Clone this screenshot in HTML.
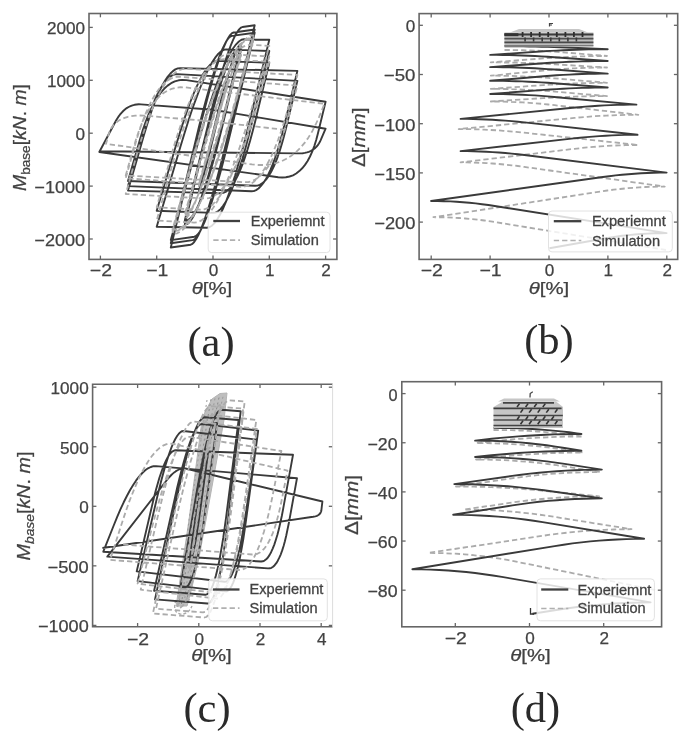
<!DOCTYPE html><html><head><meta charset="utf-8"><title>Figure</title><style>html,body{margin:0;padding:0;background:#fff;}svg{display:block;font-family:"Liberation Sans",sans-serif;filter:blur(0.65px);}</style></head><body><svg width="685" height="739" viewBox="0 0 685 739" font-family="Liberation Sans, sans-serif">
<defs><clipPath id="clipa"><rect x="89" y="13.5" width="247.89999999999998" height="245.89999999999998"/></clipPath><clipPath id="clipb"><rect x="419.1" y="13.6" width="258.6" height="245.79999999999998"/></clipPath><clipPath id="clipc"><rect x="92.6" y="384.2" width="240.00000000000003" height="242.59999999999997"/></clipPath><clipPath id="clipd"><rect x="401.8" y="381.7" width="259.8" height="245.09999999999997"/></clipPath></defs>
<rect width="685" height="739" fill="#fff"/>
<g clip-path="url(#clipa)">
<path d="M213.0,133.2 L215.9,121.3 L216.4,119.3 L216.8,117.4 L217.2,115.7 L217.6,114.2 L218.0,112.7 L218.3,111.5 L218.6,110.4 L218.9,109.4 L219.1,108.6 L219.3,107.9 L219.4,107.4 L219.6,107.0 L219.7,106.8 L219.7,106.7 L219.8,106.7 L213.9,131.0 L212.9,135.1 L212.0,138.9 L211.1,142.4 L210.3,145.6 L209.6,148.5 L209.0,151.0 L208.4,153.3 L207.9,155.3 L207.4,156.9 L207.1,158.3 L206.8,159.4 L206.5,160.1 L206.4,160.6 L206.3,160.7 L206.2,160.7 L212.4,135.5 L213.4,131.2 L214.3,127.3 L215.2,123.7 L216.0,120.4 L216.8,117.4 L217.5,114.7 L218.1,112.3 L218.6,110.3 L219.1,108.6 L219.4,107.1 L219.8,106.0 L220.0,105.3 L220.2,104.8 L220.3,104.6 L220.3,104.6 L206.2,162.8 L215.2,125.7 L216.7,119.4 L218.2,113.6 L219.5,108.3 L220.7,103.4 L221.8,99.0 L222.8,95.1 L223.7,91.6 L224.5,88.6 L225.2,86.1 L225.7,84.0 L226.2,82.4 L226.6,81.2 L226.9,80.5 L227.0,80.3 L227.1,80.3 L215.3,129.1 L213.3,137.4 L211.4,145.0 L209.7,152.0 L208.1,158.4 L206.6,164.1 L205.3,169.3 L204.1,173.9 L203.1,177.8 L202.1,181.2 L201.4,183.9 L200.7,186.0 L200.2,187.5 L199.8,188.5 L199.6,188.7 L199.5,188.7 L211.6,138.7 L213.6,130.3 L215.5,122.5 L217.3,115.3 L218.9,108.8 L220.4,102.9 L221.8,97.6 L223.0,92.9 L224.1,88.8 L225.0,85.4 L225.8,82.6 L226.4,80.4 L227.0,78.9 L227.3,78.0 L227.6,77.7 L227.6,77.7 L215.3,128.9 L213.2,137.5 L211.2,145.5 L209.4,152.8 L207.7,159.5 L206.2,165.6 L204.8,171.0 L203.6,175.8 L202.5,179.9 L201.6,183.4 L200.8,186.3 L200.1,188.5 L199.6,190.1 L199.2,191.1 L199.0,191.4 L198.9,191.4 L211.5,139.5 L213.6,130.8 L215.6,122.7 L217.4,115.2 L219.0,108.4 L220.5,102.3 L221.9,96.8 L223.0,91.9 L224.1,87.7 L225.0,84.2 L225.7,81.2 L226.3,79.0 L226.7,77.4 L227.0,76.4 L227.1,76.1 L227.1,76.1 L198.9,192.4 L215.1,125.5 L217.9,114.3 L220.5,103.8 L223.0,94.3 L225.3,85.5 L227.5,77.6 L229.5,70.5 L231.4,64.3 L233.2,58.9 L234.8,54.4 L236.3,50.7 L237.7,47.8 L238.9,45.8 L239.9,44.6 L240.8,44.3 L241.2,44.3 L221.4,125.8 L218.1,139.5 L214.8,152.2 L211.7,163.8 L208.7,174.5 L205.8,184.1 L203.0,192.6 L200.4,200.2 L197.9,206.7 L195.5,212.2 L193.3,216.7 L191.1,220.1 L189.1,222.5 L187.2,223.9 L185.5,224.2 L184.8,224.2 L204.2,144.1 L207.5,130.6 L210.8,118.2 L213.9,106.7 L216.8,96.3 L219.7,86.9 L222.5,78.4 L225.1,71.0 L227.7,64.6 L230.1,59.2 L232.4,54.8 L234.6,51.5 L236.7,49.1 L238.6,47.8 L240.5,47.4 L241.2,47.5 L222.0,126.6 L218.7,140.0 L215.5,152.3 L212.5,163.6 L209.5,173.9 L206.6,183.2 L203.9,191.6 L201.2,198.9 L198.6,205.2 L196.2,210.5 L193.9,214.8 L191.6,218.2 L189.5,220.5 L187.5,221.8 L185.5,222.1 L184.8,222.1 L203.9,143.4 L207.2,130.2 L210.3,117.9 L213.4,106.7 L216.4,96.4 L219.2,87.1 L222.0,78.9 L224.7,71.6 L227.2,65.3 L229.7,60.0 L232.0,55.7 L234.3,52.4 L236.4,50.1 L238.5,48.8 L240.4,48.5 L241.2,48.6 L222.3,126.5 L219.0,139.7 L215.9,151.8 L212.8,162.9 L209.9,173.1 L207.0,182.3 L204.3,190.5 L201.6,197.7 L199.0,203.9 L196.5,209.2 L194.1,213.4 L191.9,216.7 L189.7,218.9 L187.6,220.2 L185.6,220.6 L184.8,220.5 L208.1,124.5 L211.3,111.3 L214.4,99.0 L217.5,87.7 L220.3,77.4 L223.1,68.0 L225.8,59.6 L228.3,52.2 L230.7,45.7 L233.0,40.2 L235.1,35.6 L237.2,32.0 L239.1,29.4 L240.9,27.7 L242.5,27.0 L254.7,25.3 L228.3,134.2 L224.6,149.2 L221.1,163.1 L217.7,175.9 L214.5,187.6 L211.4,198.3 L208.5,207.8 L205.8,216.2 L203.1,223.6 L200.7,229.8 L198.4,235.0 L196.2,239.0 L194.2,242.0 L192.4,243.9 L190.7,244.7 L170.8,247.5 L196.6,140.8 L200.2,126.1 L203.7,112.4 L207.0,99.9 L210.1,88.4 L213.2,78.0 L216.0,68.6 L218.8,60.3 L221.3,53.1 L223.8,47.0 L226.0,42.0 L228.2,38.0 L230.1,35.1 L232.0,33.2 L233.7,32.5 L254.7,29.5 L229.4,134.0 L225.8,148.4 L222.4,161.8 L219.2,174.1 L216.1,185.3 L213.1,195.5 L210.3,204.7 L207.6,212.8 L205.1,219.9 L202.7,225.9 L200.4,230.8 L198.3,234.7 L196.3,237.6 L194.5,239.4 L192.8,240.1 L170.8,243.2 L195.7,140.4 L199.1,126.2 L202.5,113.0 L205.7,100.9 L208.8,89.9 L211.7,79.8 L214.5,70.8 L217.1,62.8 L219.6,55.9 L222.0,50.0 L224.3,45.1 L226.3,41.2 L228.3,38.4 L230.1,36.7 L231.8,35.9 L254.7,32.7 L230.2,133.9 L226.7,147.9 L223.5,160.8 L220.3,172.7 L217.3,183.6 L214.4,193.5 L211.6,202.4 L209.0,210.2 L206.5,217.1 L204.2,222.9 L201.9,227.7 L199.9,231.5 L197.9,234.2 L196.1,236.0 L194.4,236.7 L170.8,240.1 L196.1,149.6 L200.5,134.3 L204.7,120.2 L208.7,107.3 L212.7,95.4 L216.4,84.7 L220.1,75.2 L223.6,66.7 L226.9,59.4 L230.1,53.2 L233.2,48.2 L236.1,44.3 L238.9,41.5 L241.5,39.8 L244.0,39.3 L269.3,39.8 L248.8,124.5 L245.3,138.8 L241.8,152.0 L238.4,164.1 L235.2,175.2 L231.9,185.2 L228.8,194.2 L225.8,202.1 L222.8,209.0 L220.0,214.8 L217.2,219.5 L214.5,223.1 L211.9,225.7 L209.3,227.3 L206.9,227.8 L156.7,226.8 L180.4,146.7 L184.5,133.2 L188.4,120.7 L192.2,109.2 L196.0,98.8 L199.5,89.3 L203.0,80.8 L206.3,73.4 L209.5,66.9 L212.6,61.5 L215.6,57.1 L218.4,53.6 L221.2,51.2 L223.8,49.8 L226.2,49.4 L269.3,51.0 L251.6,124.1 L248.5,136.5 L245.5,147.9 L242.6,158.3 L239.6,167.9 L236.8,176.5 L233.9,184.2 L231.2,191.0 L228.4,196.9 L225.8,201.9 L223.1,205.9 L220.5,209.1 L218.0,211.3 L215.5,212.6 L213.1,212.9 L156.7,210.8 L176.7,143.0 L180.2,131.6 L183.6,121.1 L186.9,111.4 L190.1,102.5 L193.3,94.5 L196.3,87.4 L199.3,81.1 L202.2,75.6 L205.1,71.1 L207.8,67.3 L210.5,64.4 L213.1,62.4 L215.7,61.2 L218.1,60.9 L269.3,62.8 L255.1,121.7 L252.6,131.6 L250.1,140.8 L247.6,149.2 L245.1,156.9 L242.7,163.9 L240.2,170.1 L237.8,175.6 L235.3,180.3 L232.9,184.3 L230.4,187.6 L228.0,190.1 L225.6,191.9 L223.2,192.9 L220.7,193.2 L128.0,190.6 L143.9,135.3 L146.7,126.0 L149.4,117.4 L152.1,109.5 L154.8,102.2 L157.4,95.7 L160.1,89.9 L162.7,84.7 L165.3,80.3 L167.8,76.5 L170.4,73.5 L172.9,71.1 L175.3,69.4 L177.8,68.4 L180.2,68.1 L297.4,70.9 L284.3,125.4 L282.0,134.6 L279.6,143.1 L277.3,150.9 L275.0,158.0 L272.7,164.4 L270.3,170.1 L268.0,175.2 L265.6,179.6 L263.2,183.2 L260.8,186.2 L258.5,188.5 L256.1,190.1 L253.7,191.1 L251.3,191.3 L128.0,186.1 L142.6,135.3 L145.2,126.7 L147.7,118.8 L150.2,111.6 L152.7,104.9 L155.2,99.0 L157.7,93.6 L160.2,88.9 L162.7,84.9 L165.2,81.5 L167.6,78.7 L170.1,76.6 L172.5,75.1 L174.9,74.3 L177.4,74.1 L297.4,80.9 L286.0,128.4 L283.9,136.4 L281.9,143.8 L279.8,150.6 L277.7,156.8 L275.6,162.4 L273.4,167.4 L271.2,171.8 L269.0,175.6 L266.7,178.8 L264.4,181.4 L262.1,183.4 L259.8,184.8 L257.4,185.6 L255.0,185.8 L128.0,181.0 L140.1,138.9 L142.7,130.2 L145.5,122.3 L148.3,115.0 L151.3,108.4 L154.3,102.4 L157.5,97.2 L160.8,92.7 L164.1,88.8 L167.6,85.6 L171.1,83.2 L174.8,81.4 L178.6,80.3 L182.4,79.9 L186.4,80.1 L325.6,101.7 L317.9,133.5 L316.2,140.0 L314.3,146.1 L312.2,151.6 L310.0,156.5 L307.6,161.0 L305.0,164.9 L302.2,168.3 L299.3,171.1 L296.2,173.5 L293.0,175.3 L289.5,176.5 L285.9,177.3 L282.2,177.5 L278.2,177.2 L99.3,152.0 L115.4,121.7 L116.8,119.2 L118.3,116.9 L119.9,114.7 L121.5,112.8 L123.2,111.0 L124.9,109.5 L126.7,108.1 L128.6,107.0 L130.5,106.1 L132.5,105.3 L134.5,104.8 L136.6,104.5 L138.8,104.3 L141.0,104.4 L213.0,109.8 L325.6,128.7 L320.8,139.9 L319.9,141.8 L318.9,143.5 L317.8,145.1 L316.6,146.6 L315.3,147.9 L313.8,149.1 L312.2,150.1 L310.6,151.0 L308.8,151.8 L306.9,152.4 L304.8,152.9 L302.7,153.2 L300.5,153.4 L298.1,153.4 L100.4,151.2" fill="none" stroke="#3a3a3a" stroke-width="1.9" stroke-linejoin="round"/>
<path d="M213.0,133.2 L219.8,107.8 L206.2,159.6 L220.3,106.7 L206.2,160.7 L227.1,85.6 L218.8,115.0 L216.2,124.4 L213.7,133.1 L211.5,141.2 L209.4,148.5 L207.5,155.2 L205.8,161.1 L204.3,166.4 L203.0,170.9 L201.8,174.7 L200.9,177.9 L200.1,180.3 L199.5,182.1 L199.2,183.1 L199.0,183.5 L198.9,183.5 L227.1,82.9 L198.9,186.1 L227.6,81.4 L198.9,186.1 L210.3,145.5 L214.0,132.5 L217.4,120.4 L220.6,109.3 L223.6,99.2 L226.4,90.0 L228.9,81.8 L231.2,74.6 L233.3,68.4 L235.1,63.1 L236.7,58.8 L238.1,55.4 L239.3,53.0 L240.2,51.6 L240.9,51.2 L241.2,51.2 L227.1,101.4 L222.5,117.5 L218.2,132.5 L214.1,146.2 L210.3,158.7 L206.7,170.1 L203.3,180.2 L200.2,189.1 L197.4,196.8 L194.8,203.3 L192.4,208.6 L190.3,212.8 L188.4,215.7 L186.7,217.4 L185.3,217.9 L184.8,217.8 L198.7,168.4 L203.2,152.5 L207.5,137.8 L211.5,124.3 L215.3,112.0 L218.9,100.8 L222.2,90.9 L225.3,82.1 L228.2,74.5 L230.9,68.1 L233.3,62.9 L235.5,58.8 L237.4,56.0 L239.1,54.3 L240.6,53.8 L241.2,53.8 L227.5,102.5 L223.1,118.1 L218.9,132.6 L214.9,145.9 L211.1,158.0 L207.6,169.0 L204.2,178.8 L201.1,187.4 L198.2,194.9 L195.5,201.2 L193.1,206.4 L190.8,210.3 L188.8,213.1 L187.0,214.8 L185.4,215.2 L184.8,215.2 L198.4,166.9 L202.8,151.3 L207.0,136.9 L211.0,123.7 L214.7,111.7 L218.3,100.8 L221.6,91.0 L224.7,82.5 L227.6,75.0 L230.3,68.8 L232.8,63.7 L235.1,59.7 L237.1,57.0 L239.0,55.3 L240.6,54.9 L241.2,54.9 L227.7,102.9 L223.3,118.4 L219.1,132.6 L215.2,145.8 L211.4,157.8 L207.9,168.6 L204.6,178.3 L201.4,186.8 L198.5,194.1 L195.8,200.4 L193.3,205.4 L191.0,209.3 L189.0,212.1 L187.1,213.7 L185.4,214.2 L184.8,214.1 L200.0,160.1 L204.9,142.7 L209.7,126.7 L214.3,111.9 L218.7,98.4 L222.9,86.3 L227.0,75.4 L230.8,65.8 L234.5,57.6 L238.0,50.6 L241.3,44.9 L244.4,40.6 L247.3,37.5 L250.1,35.7 L252.6,35.3 L253.5,35.3 L236.7,95.4 L231.2,114.7 L225.8,132.6 L220.6,149.0 L215.5,163.9 L210.6,177.4 L205.9,189.5 L201.3,200.1 L196.9,209.3 L192.6,217.0 L188.5,223.2 L184.6,228.0 L180.8,231.4 L177.2,233.3 L173.7,233.8 L172.5,233.7 L189.1,174.4 L194.5,155.4 L199.9,137.7 L205.0,121.6 L210.0,106.8 L214.9,93.5 L219.7,81.6 L224.2,71.1 L228.7,62.1 L233.0,54.5 L237.1,48.3 L241.1,43.5 L245.0,40.2 L248.7,38.3 L252.3,37.9 L253.5,38.0 L237.1,96.5 L231.7,115.3 L226.5,132.7 L221.4,148.7 L216.4,163.2 L211.5,176.4 L206.8,188.1 L202.2,198.4 L197.7,207.4 L193.4,214.9 L189.2,220.9 L185.2,225.6 L181.2,228.9 L177.4,230.7 L173.8,231.2 L172.5,231.1 L188.8,172.9 L194.1,154.2 L199.4,136.9 L204.5,121.0 L209.5,106.5 L214.3,93.4 L219.0,81.7 L223.6,71.5 L228.1,62.6 L232.4,55.1 L236.6,49.1 L240.7,44.4 L244.6,41.2 L248.5,39.4 L252.1,38.9 L253.5,39.0 L237.4,96.8 L232.0,115.3 L226.8,132.5 L221.8,148.3 L216.8,162.6 L212.0,175.6 L207.3,187.2 L202.7,197.4 L198.3,206.2 L194.0,213.5 L189.8,219.5 L185.7,224.2 L181.8,227.4 L178.0,229.2 L174.3,229.6 L172.5,229.5 L188.1,173.7 L193.3,155.7 L198.3,139.1 L203.2,123.9 L208.0,110.0 L212.7,97.4 L217.3,86.2 L221.8,76.3 L226.2,67.8 L230.4,60.6 L234.5,54.8 L238.5,50.3 L242.4,47.1 L246.2,45.3 L249.9,44.8 L269.3,45.9 L254.3,99.3 L249.4,116.5 L244.6,132.4 L239.8,147.0 L235.2,160.3 L230.6,172.3 L226.2,183.0 L221.8,192.5 L217.6,200.7 L213.4,207.5 L209.3,213.1 L205.4,217.4 L201.5,220.4 L197.8,222.2 L194.1,222.6 L156.7,220.5 L170.8,170.2 L175.4,154.0 L180.0,139.1 L184.5,125.3 L189.0,112.8 L193.3,101.5 L197.6,91.4 L201.8,82.5 L205.9,74.8 L209.9,68.4 L213.9,63.1 L217.8,59.1 L221.6,56.2 L225.3,54.6 L229.0,54.2 L269.3,56.5 L256.3,102.9 L252.0,117.8 L247.7,131.6 L243.5,144.3 L239.4,155.8 L235.3,166.2 L231.2,175.6 L227.2,183.7 L223.3,190.8 L219.4,196.8 L215.5,201.6 L211.7,205.3 L208.0,207.9 L204.3,209.4 L200.6,209.7 L156.7,207.3 L169.3,162.4 L173.4,148.0 L177.5,134.7 L181.6,122.5 L185.7,111.3 L189.7,101.2 L193.6,92.2 L197.6,84.3 L201.5,77.5 L205.3,71.7 L209.1,67.1 L212.9,63.5 L216.6,61.0 L220.3,59.6 L223.9,59.2 L269.3,61.8 L257.7,103.2 L253.8,116.5 L250.0,128.9 L246.2,140.2 L242.4,150.5 L238.6,159.8 L234.8,168.1 L231.0,175.4 L227.3,181.7 L223.6,187.0 L219.9,191.3 L216.2,194.6 L212.5,196.9 L208.9,198.2 L205.3,198.5 L125.7,194.0 L136.4,156.0 L139.9,143.8 L143.5,132.5 L147.0,122.2 L150.6,112.7 L154.2,104.2 L157.8,96.6 L161.3,89.9 L164.9,84.1 L168.5,79.2 L172.1,75.3 L175.7,72.3 L179.3,70.2 L182.9,69.0 L186.6,68.8 L297.4,75.0 L287.9,109.1 L284.7,120.1 L281.5,130.2 L278.2,139.5 L274.9,147.9 L271.6,155.6 L268.2,162.3 L264.9,168.3 L261.4,173.4 L258.0,177.7 L254.5,181.2 L251.0,183.9 L247.5,185.7 L243.9,186.6 L240.3,186.8 L125.7,178.2 L134.4,147.2 L137.3,137.2 L140.3,128.0 L143.3,119.6 L146.4,111.9 L149.5,105.0 L152.7,98.8 L155.9,93.4 L159.2,88.8 L162.6,84.9 L165.9,81.7 L169.4,79.4 L172.9,77.7 L176.4,76.9 L180.0,76.8 L297.4,85.6 L289.2,115.0 L286.4,124.5 L283.6,133.2 L280.7,141.2 L277.7,148.5 L274.7,155.1 L271.6,161.0 L268.5,166.1 L265.2,170.6 L262.0,174.3 L258.6,177.3 L255.2,179.6 L251.8,181.2 L248.2,182.1 L244.7,182.2 L125.7,175.5 L133.5,147.9 L136.1,139.1 L138.9,130.9 L141.9,123.4 L145.1,116.7 L148.4,110.6 L151.8,105.2 L155.4,100.6 L159.2,96.6 L163.2,93.3 L167.3,90.8 L171.5,88.9 L176.0,87.7 L180.5,87.2 L185.3,87.4 L324.5,103.8 L319.0,117.2 L315.7,124.5 L312.3,131.2 L308.5,137.4 L304.6,142.9 L300.4,147.8 L296.0,152.1 L291.3,155.7 L286.4,158.8 L281.3,161.3 L275.9,163.1 L270.3,164.3 L264.4,165.0 L258.4,165.0 L252.0,164.4 L106.0,143.8 L108.6,134.5 L109.6,131.5 L110.9,128.8 L112.5,126.3 L114.4,124.1 L116.5,122.2 L118.9,120.5 L121.6,119.0 L124.6,117.8 L127.9,116.8 L131.4,116.1 L135.3,115.7 L139.4,115.5 L143.8,115.6 L148.5,115.9 L213.0,121.6 L286.2,130.0" fill="none" stroke="#ababab" stroke-width="1.8" stroke-dasharray="5.3 3" stroke-linejoin="round"/>
</g>
<g stroke="#666" stroke-width="1.3"><line x1="100.40" y1="259.40" x2="100.40" y2="255.60"/><line x1="100.40" y1="13.50" x2="100.40" y2="17.30"/><line x1="156.70" y1="259.40" x2="156.70" y2="255.60"/><line x1="156.70" y1="13.50" x2="156.70" y2="17.30"/><line x1="213.00" y1="259.40" x2="213.00" y2="255.60"/><line x1="213.00" y1="13.50" x2="213.00" y2="17.30"/><line x1="269.30" y1="259.40" x2="269.30" y2="255.60"/><line x1="269.30" y1="13.50" x2="269.30" y2="17.30"/><line x1="325.60" y1="259.40" x2="325.60" y2="255.60"/><line x1="325.60" y1="13.50" x2="325.60" y2="17.30"/><line x1="89.00" y1="239.00" x2="92.80" y2="239.00"/><line x1="336.90" y1="239.00" x2="333.10" y2="239.00"/><line x1="89.00" y1="186.10" x2="92.80" y2="186.10"/><line x1="336.90" y1="186.10" x2="333.10" y2="186.10"/><line x1="89.00" y1="133.20" x2="92.80" y2="133.20"/><line x1="336.90" y1="133.20" x2="333.10" y2="133.20"/><line x1="89.00" y1="80.30" x2="92.80" y2="80.30"/><line x1="336.90" y1="80.30" x2="333.10" y2="80.30"/><line x1="89.00" y1="27.40" x2="92.80" y2="27.40"/><line x1="336.90" y1="27.40" x2="333.10" y2="27.40"/></g>
<rect x="89.00" y="13.50" width="247.90" height="245.90" fill="none" stroke="#666" stroke-width="1.6"/>
<rect x="208.20" y="212.20" width="121.80" height="40.40" rx="3.5" fill="#fff" fill-opacity="0.82" stroke="#e2e2e2" stroke-width="1"/>
<line x1="213.30" y1="221.00" x2="240.00" y2="221.00" stroke="#404040" stroke-width="2.3"/>
<line x1="213.30" y1="240.20" x2="240.00" y2="240.20" stroke="#b0b0b0" stroke-width="1.7" stroke-dasharray="5.3 3"/>
<text x="250.70" y="226.20" font-size="14.6" fill="#424242" stroke="#424242" stroke-width="0.3">Experiemnt</text>
<text x="250.70" y="245.00" font-size="14.6" fill="#424242" stroke="#424242" stroke-width="0.3">Simulation</text>
<g font-size="16.5" fill="#424242" stroke="#424242" stroke-width="0.25"><text x="100.90" y="275.80" text-anchor="middle" textLength="22.11" lengthAdjust="spacingAndGlyphs">−2</text><text x="157.20" y="275.80" text-anchor="middle" textLength="22.11" lengthAdjust="spacingAndGlyphs">−1</text><text x="213.50" y="275.80" text-anchor="middle" textLength="9.54" lengthAdjust="spacingAndGlyphs">0</text><text x="269.80" y="275.80" text-anchor="middle" textLength="9.54" lengthAdjust="spacingAndGlyphs">1</text><text x="326.10" y="275.80" text-anchor="middle" textLength="9.54" lengthAdjust="spacingAndGlyphs">2</text><text x="85.10" y="245.90" text-anchor="end" textLength="50.73" lengthAdjust="spacingAndGlyphs">−2000</text><text x="85.10" y="193.00" text-anchor="end" textLength="50.73" lengthAdjust="spacingAndGlyphs">−1000</text><text x="85.10" y="140.10" text-anchor="end" textLength="9.54" lengthAdjust="spacingAndGlyphs">0</text><text x="85.10" y="87.20" text-anchor="end" textLength="38.16" lengthAdjust="spacingAndGlyphs">1000</text><text x="85.10" y="34.30" text-anchor="end" textLength="38.16" lengthAdjust="spacingAndGlyphs">2000</text></g>
<text x="212.00" y="294.30" font-size="17" fill="#424242" stroke="#424242" stroke-width="0.25" text-anchor="middle" textLength="40.5" lengthAdjust="spacingAndGlyphs"><tspan font-style="italic">θ</tspan>[%]</text>
<text transform="translate(26.00,137.50) rotate(-90)" font-size="18.5" fill="#424242" stroke="#424242" stroke-width="0.25" text-anchor="middle" textLength="107.0" lengthAdjust="spacingAndGlyphs"><tspan font-style="italic">M</tspan><tspan font-size="13" dy="3.5">base</tspan><tspan dy="-3.5">[</tspan><tspan font-style="italic">kN</tspan>. <tspan font-style="italic">m</tspan>]</text>
<text x="211.00" y="355.50" font-family="Liberation Serif" font-size="42.5" fill="#2a2a2a" text-anchor="middle">(a)</text>
<g clip-path="url(#clipb)">
<path d="M504.5,50.0 L510.6,50.0 L516.8,50.1 L522.9,50.2 L529.1,50.4 L535.2,50.6 L541.4,50.9 L547.5,51.3 L553.6,51.6 L559.8,52.1 L565.9,52.6 L607.0,56.0 L600.6,56.0 L594.2,56.1 L587.8,56.2 L581.4,56.4 L575.0,56.6 L568.6,56.9 L562.2,57.2 L555.9,57.6 L549.5,58.0 L543.1,58.4 L490.8,62.4 L497.2,62.4 L503.6,62.5 L510.0,62.6 L516.4,62.7 L522.8,62.9 L529.2,63.1 L535.6,63.3 L542.0,63.6 L548.4,64.0 L554.7,64.3 L607.0,67.5 L600.6,67.5 L594.2,67.6 L587.8,67.8 L581.4,68.0 L575.0,68.3 L568.7,68.6 L562.3,69.0 L555.9,69.5 L549.5,70.0 L543.2,70.6 L490.8,75.7 L497.2,75.7 L503.6,75.8 L510.0,75.9 L516.4,76.1 L522.8,76.4 L529.2,76.7 L535.5,77.0 L541.9,77.4 L548.3,77.9 L554.7,78.4 L607.0,82.8 L600.6,82.8 L594.2,82.9 L587.8,83.0 L581.4,83.2 L575.0,83.4 L568.6,83.6 L562.2,83.9 L555.9,84.3 L549.5,84.7 L543.1,85.1 L490.8,88.9 L497.2,88.9 L503.6,89.0 L510.0,89.1 L516.4,89.3 L522.8,89.6 L529.2,89.9 L535.5,90.2 L541.9,90.6 L548.3,91.1 L554.7,91.6 L607.0,96.1 L600.6,96.1 L594.2,96.2 L587.8,96.3 L581.4,96.4 L575.0,96.6 L568.6,96.8 L562.2,97.1 L555.8,97.4 L549.5,97.8 L543.1,98.1 L490.8,101.5 L497.2,101.5 L503.6,101.6 L510.0,101.8 L516.4,102.1 L522.7,102.4 L529.1,102.8 L535.5,103.3 L541.9,103.8 L548.2,104.5 L554.6,105.2 L638.3,114.8 L631.9,114.8 L625.5,114.9 L619.1,115.1 L612.7,115.3 L606.3,115.6 L600.0,115.9 L593.6,116.3 L587.2,116.8 L580.8,117.3 L574.4,117.9 L458.7,129.1 L465.1,129.1 L471.5,129.2 L477.9,129.4 L484.3,129.6 L490.7,130.0 L497.0,130.3 L503.4,130.8 L509.8,131.3 L516.2,131.9 L522.5,132.5 L638.3,145.0 L631.9,145.0 L625.5,145.2 L619.1,145.3 L612.7,145.6 L606.4,145.9 L600.0,146.4 L593.6,146.9 L587.2,147.4 L580.9,148.1 L574.5,148.8 L460.6,162.4 L467.0,162.4 L473.4,162.6 L479.8,162.8 L486.2,163.1 L492.5,163.5 L498.9,164.0 L505.2,164.6 L511.6,165.3 L517.9,166.0 L524.3,166.9 L664.7,186.6 L658.3,186.6 L651.9,186.8 L645.5,187.0 L639.2,187.4 L632.8,187.8 L626.4,188.3 L620.1,189.0 L613.7,189.7 L607.4,190.5 L601.1,191.5 L433.4,217.2 L439.8,217.3 L446.2,217.4 L452.6,217.7 L458.9,218.0 L465.3,218.5 L471.6,219.1 L478.0,219.7 L484.3,220.5 L490.7,221.4 L497.0,222.4 L666.0,250.0" fill="none" stroke="#ababab" stroke-width="1.8" stroke-dasharray="5.3 3" stroke-linejoin="round"/>
<path d="M504.5,46.3 L510.7,46.3 L516.9,46.3 L523.1,46.4 L529.3,46.5 L535.5,46.6 L541.6,46.7 L547.8,46.9 L554.0,47.1 L560.2,47.3 L566.4,47.5 L607.7,49.2 L601.3,49.2 L594.9,49.3 L588.5,49.4 L582.1,49.5 L575.7,49.7 L569.3,50.0 L562.9,50.2 L556.5,50.6 L550.2,50.9 L543.8,51.3 L490.2,54.9 L496.6,54.9 L503.0,55.0 L509.4,55.1 L515.8,55.3 L522.2,55.5 L528.6,55.7 L535.0,56.0 L541.3,56.4 L547.7,56.7 L554.1,57.2 L607.7,61.0 L601.3,61.0 L594.9,61.1 L588.5,61.2 L582.1,61.4 L575.7,61.6 L569.3,61.8 L562.9,62.1 L556.6,62.5 L550.2,62.8 L543.8,63.3 L490.2,67.1 L496.6,67.1 L503.0,67.2 L509.4,67.3 L515.8,67.5 L522.2,67.7 L528.6,68.0 L535.0,68.3 L541.3,68.7 L547.7,69.1 L554.1,69.5 L607.7,73.6 L601.3,73.6 L594.9,73.7 L588.5,73.8 L582.1,74.0 L575.7,74.3 L569.3,74.6 L563.0,74.9 L556.6,75.3 L550.2,75.8 L543.8,76.3 L490.2,80.8 L496.6,80.8 L503.0,80.9 L509.4,81.0 L515.8,81.2 L522.2,81.4 L528.6,81.7 L535.0,82.0 L541.3,82.4 L547.7,82.8 L554.1,83.3 L607.7,87.5 L601.3,87.5 L594.9,87.6 L588.5,87.7 L582.1,87.9 L575.7,88.1 L569.3,88.4 L562.9,88.7 L556.6,89.1 L550.2,89.5 L543.8,89.9 L490.2,94.0 L496.6,94.0 L503.0,94.1 L509.4,94.3 L515.8,94.5 L522.2,94.7 L528.6,95.1 L534.9,95.4 L541.3,95.9 L547.7,96.4 L554.1,97.0 L636.4,104.6 L630.0,104.6 L623.6,104.7 L617.2,104.9 L610.8,105.1 L604.4,105.4 L598.1,105.7 L591.7,106.2 L585.3,106.6 L578.9,107.2 L572.6,107.8 L460.6,118.9 L467.0,118.9 L473.4,119.0 L479.8,119.2 L486.2,119.5 L492.6,119.8 L498.9,120.2 L505.3,120.6 L511.7,121.1 L518.0,121.7 L524.4,122.4 L637.5,134.8 L631.1,134.8 L624.7,134.9 L618.3,135.1 L611.9,135.4 L605.6,135.7 L599.2,136.1 L592.8,136.6 L586.4,137.1 L580.1,137.7 L573.7,138.4 L460.6,151.1 L467.0,151.1 L473.4,151.3 L479.8,151.5 L486.2,151.7 L492.5,152.1 L498.9,152.5 L505.3,153.0 L511.6,153.6 L518.0,154.3 L524.4,155.0 L666.6,172.6 L660.2,172.6 L653.8,172.8 L647.4,173.0 L641.0,173.3 L634.7,173.7 L628.3,174.2 L622.0,174.8 L615.6,175.4 L609.2,176.2 L602.9,177.0 L431.1,201.0 L437.5,201.0 L443.9,201.2 L450.3,201.4 L456.6,201.8 L463.0,202.2 L469.4,202.8 L475.7,203.4 L482.0,204.2 L488.4,205.0 L494.7,206.0 L666.6,233.1 L660.2,233.2 L653.8,233.3 L647.4,233.6 L641.1,234.0 L634.7,234.5 L628.4,235.1 L622.0,235.8 L615.7,236.7 L609.4,237.6 L603.1,238.7 L549.4,248.2" fill="none" stroke="#3a3a3a" stroke-width="1.9" stroke-linejoin="round"/>
<path d="M519,29 L579,29 L588,32.5 L510,32.5 Z" fill="#c6c6c6"/>
<rect x="504.4" y="32.5" width="89" height="14" fill="#bdbdbd"/>
<line x1="504.4" y1="34.6" x2="593.4" y2="34.6" stroke="#3c3c3c" stroke-width="2.0"/>
<line x1="504.4" y1="38.6" x2="593.4" y2="38.6" stroke="#505050" stroke-width="1.6"/>
<line x1="504.4" y1="42.4" x2="593.4" y2="42.4" stroke="#484848" stroke-width="1.6"/>
<line x1="504.4" y1="45.6" x2="593.4" y2="45.6" stroke="#7a7a7a" stroke-width="1.3"/>
<rect x="504.4" y="33.2" width="14" height="3" fill="#333"/>
<line x1="522.6" y1="32" x2="522.6" y2="37" stroke="#2e2e2e" stroke-width="1.8"/>
<line x1="525.1" y1="37.5" x2="525.1" y2="41.5" stroke="#3a3a3a" stroke-width="1.6"/>
<line x1="531.1" y1="32" x2="531.1" y2="37" stroke="#2e2e2e" stroke-width="1.8"/>
<line x1="533.6" y1="37.5" x2="533.6" y2="41.5" stroke="#3a3a3a" stroke-width="1.6"/>
<line x1="539.7" y1="32" x2="539.7" y2="37" stroke="#2e2e2e" stroke-width="1.8"/>
<line x1="542.2" y1="37.5" x2="542.2" y2="41.5" stroke="#3a3a3a" stroke-width="1.6"/>
<line x1="548.2" y1="32" x2="548.2" y2="37" stroke="#2e2e2e" stroke-width="1.8"/>
<line x1="550.8" y1="37.5" x2="550.8" y2="41.5" stroke="#3a3a3a" stroke-width="1.6"/>
<line x1="556.8" y1="32" x2="556.8" y2="37" stroke="#2e2e2e" stroke-width="1.8"/>
<line x1="559.3" y1="37.5" x2="559.3" y2="41.5" stroke="#3a3a3a" stroke-width="1.6"/>
<line x1="565.4" y1="32" x2="565.4" y2="37" stroke="#2e2e2e" stroke-width="1.8"/>
<line x1="567.9" y1="37.5" x2="567.9" y2="41.5" stroke="#3a3a3a" stroke-width="1.6"/>
<line x1="573.9" y1="32" x2="573.9" y2="37" stroke="#2e2e2e" stroke-width="1.8"/>
<line x1="576.4" y1="37.5" x2="576.4" y2="41.5" stroke="#3a3a3a" stroke-width="1.6"/>
<line x1="582.5" y1="32" x2="582.5" y2="37" stroke="#2e2e2e" stroke-width="1.8"/>
<path d="M549.5,26.5 L549.5,23.5 L553,23.5 M549.5,25 L552,25" fill="none" stroke="#444" stroke-width="1.2"/>
</g>
<g stroke="#666" stroke-width="1.3"><line x1="431.20" y1="259.40" x2="431.20" y2="255.60"/><line x1="431.20" y1="13.60" x2="431.20" y2="17.40"/><line x1="490.10" y1="259.40" x2="490.10" y2="255.60"/><line x1="490.10" y1="13.60" x2="490.10" y2="17.40"/><line x1="549.00" y1="259.40" x2="549.00" y2="255.60"/><line x1="549.00" y1="13.60" x2="549.00" y2="17.40"/><line x1="607.90" y1="259.40" x2="607.90" y2="255.60"/><line x1="607.90" y1="13.60" x2="607.90" y2="17.40"/><line x1="666.80" y1="259.40" x2="666.80" y2="255.60"/><line x1="666.80" y1="13.60" x2="666.80" y2="17.40"/><line x1="419.10" y1="25.30" x2="422.90" y2="25.30"/><line x1="677.70" y1="25.30" x2="673.90" y2="25.30"/><line x1="419.10" y1="74.50" x2="422.90" y2="74.50"/><line x1="677.70" y1="74.50" x2="673.90" y2="74.50"/><line x1="419.10" y1="123.70" x2="422.90" y2="123.70"/><line x1="677.70" y1="123.70" x2="673.90" y2="123.70"/><line x1="419.10" y1="172.90" x2="422.90" y2="172.90"/><line x1="677.70" y1="172.90" x2="673.90" y2="172.90"/><line x1="419.10" y1="222.10" x2="422.90" y2="222.10"/><line x1="677.70" y1="222.10" x2="673.90" y2="222.10"/></g>
<rect x="419.10" y="13.60" width="258.60" height="245.80" fill="none" stroke="#666" stroke-width="1.6"/>
<rect x="548.50" y="211.00" width="123.80" height="40.90" rx="3.5" fill="#fff" fill-opacity="0.82" stroke="#e2e2e2" stroke-width="1"/>
<line x1="553.80" y1="221.20" x2="581.30" y2="221.20" stroke="#404040" stroke-width="2.3"/>
<line x1="553.80" y1="240.50" x2="581.30" y2="240.50" stroke="#b0b0b0" stroke-width="1.7" stroke-dasharray="5.3 3"/>
<text x="591.90" y="226.40" font-size="14.6" fill="#424242" stroke="#424242" stroke-width="0.3">Experiemnt</text>
<text x="591.90" y="245.50" font-size="14.6" fill="#424242" stroke="#424242" stroke-width="0.3">Simulation</text>
<g font-size="16.5" fill="#424242" stroke="#424242" stroke-width="0.25"><text x="431.70" y="276.00" text-anchor="middle" textLength="22.11" lengthAdjust="spacingAndGlyphs">−2</text><text x="490.60" y="276.00" text-anchor="middle" textLength="22.11" lengthAdjust="spacingAndGlyphs">−1</text><text x="549.50" y="276.00" text-anchor="middle" textLength="9.54" lengthAdjust="spacingAndGlyphs">0</text><text x="608.40" y="276.00" text-anchor="middle" textLength="9.54" lengthAdjust="spacingAndGlyphs">1</text><text x="667.30" y="276.00" text-anchor="middle" textLength="9.54" lengthAdjust="spacingAndGlyphs">2</text><text x="415.40" y="32.20" text-anchor="end" textLength="9.54" lengthAdjust="spacingAndGlyphs">0</text><text x="415.40" y="81.40" text-anchor="end" textLength="31.65" lengthAdjust="spacingAndGlyphs">−50</text><text x="415.40" y="130.60" text-anchor="end" textLength="41.19" lengthAdjust="spacingAndGlyphs">−100</text><text x="415.40" y="179.80" text-anchor="end" textLength="41.19" lengthAdjust="spacingAndGlyphs">−150</text><text x="415.40" y="229.00" text-anchor="end" textLength="41.19" lengthAdjust="spacingAndGlyphs">−200</text></g>
<text x="549.00" y="294.30" font-size="17" fill="#424242" stroke="#424242" stroke-width="0.25" text-anchor="middle" textLength="40.5" lengthAdjust="spacingAndGlyphs"><tspan font-style="italic">θ</tspan>[%]</text>
<text transform="translate(364.50,137.30) rotate(-90)" font-size="18.5" fill="#424242" stroke="#424242" stroke-width="0.25" text-anchor="middle" textLength="59.5" lengthAdjust="spacingAndGlyphs">Δ[<tspan font-style="italic">mm</tspan>]</text>
<text x="549.00" y="354.00" font-family="Liberation Serif" font-size="42.5" fill="#2a2a2a" text-anchor="middle">(b)</text>
<g clip-path="url(#clipc)">
<path d="M205,412 L212,399 L220,393.5 L227,393 L224,420 L206,520 L198.6,560 L189.8,596 L187,606 L176,606 L177.6,596 L183,560 L189,520 L202,420 Z" fill="#bebebe" stroke="#b4b4b4" stroke-width="1"/>
<path d="M207,400.0 L204.0,420 L189.0,520 L179,604.0" fill="none" stroke="#9a9a9a" stroke-width="1" stroke-dasharray="2 3"/>
<path d="M211,399.2 L207.4,420 L192.1,520 L181.5,604.0" fill="none" stroke="#8a8a8a" stroke-width="1" stroke-dasharray="2 3"/>
<path d="M215,398.4 L210.8,420 L195.2,520 L184,604.0" fill="none" stroke="#9a9a9a" stroke-width="1" stroke-dasharray="2 3"/>
<path d="M219,397.6 L214.2,420 L198.4,520 L186.5,604.0" fill="none" stroke="#8a8a8a" stroke-width="1" stroke-dasharray="2 3"/>
<path d="M223,396.8 L217.6,420 L201.0,520 L188.5,604.0" fill="none" stroke="#9a9a9a" stroke-width="1" stroke-dasharray="2 3"/>
<path d="M176,600 Q172,612 180,614 Q188,615 192,606" fill="none" stroke="#aaa" stroke-width="1.4" stroke-dasharray="3 2"/>
<path d="M198.8,506.3 L202.8,476.7 L203.3,473.4 L203.7,470.3 L204.1,467.4 L204.6,464.9 L205.0,462.5 L205.3,460.4 L205.7,458.6 L206.1,457.0 L206.4,455.7 L206.7,454.6 L207.0,453.7 L207.3,453.1 L207.6,452.8 L207.9,452.7 L208.0,452.7 L200.0,511.9 L199.1,518.6 L198.2,524.7 L197.3,530.4 L196.5,535.6 L195.7,540.3 L194.9,544.4 L194.2,548.1 L193.4,551.3 L192.8,554.0 L192.1,556.2 L191.5,557.9 L190.9,559.0 L190.3,559.7 L189.8,559.9 L189.6,559.9 L199.9,484.0 L201.1,475.4 L202.3,467.5 L203.5,460.3 L204.7,453.7 L205.9,447.7 L207.1,442.4 L208.3,437.7 L209.5,433.6 L210.7,430.2 L211.9,427.5 L213.1,425.4 L214.3,423.9 L215.5,423.1 L216.7,422.9 L217.2,422.9 L204.8,514.2 L203.4,524.5 L201.9,534.0 L200.5,542.8 L199.0,550.7 L197.5,557.9 L196.0,564.3 L194.6,570.0 L193.1,574.8 L191.6,578.9 L190.1,582.2 L188.6,584.8 L187.0,586.5 L185.5,587.5 L184.0,587.7 L180.4,587.3 L197.2,489.2 L199.2,478.1 L201.1,467.9 L203.0,458.5 L204.8,450.0 L206.7,442.2 L208.5,435.3 L210.2,429.2 L212.0,424.0 L213.7,419.5 L215.3,415.9 L217.0,413.1 L218.6,411.2 L220.2,410.1 L221.7,409.8 L240.7,411.3 L228.3,517.5 L226.9,529.4 L225.4,540.5 L223.9,550.7 L222.5,559.9 L221.0,568.3 L219.5,575.8 L218.0,582.4 L216.5,588.1 L215.0,592.9 L213.5,596.8 L212.0,599.8 L210.5,602.0 L209.0,603.2 L207.5,603.5 L155.0,599.4 L176.6,498.8 L179.1,487.5 L181.5,477.0 L183.8,467.4 L186.1,458.6 L188.3,450.6 L190.4,443.5 L192.5,437.3 L194.5,431.9 L196.4,427.3 L198.2,423.6 L200.0,420.8 L201.7,418.8 L203.4,417.6 L204.9,417.3 L238.6,420.0 L226.2,516.5 L224.7,527.4 L223.3,537.5 L221.8,546.7 L220.3,555.2 L218.9,562.8 L217.4,569.6 L215.9,575.6 L214.4,580.8 L212.9,585.1 L211.4,588.7 L209.9,591.4 L208.4,593.3 L206.8,594.4 L205.3,594.7 L154.1,590.7 L174.8,498.4 L177.1,488.0 L179.5,478.3 L181.7,469.5 L183.9,461.4 L186.0,454.2 L188.1,447.7 L190.1,442.0 L192.0,437.1 L193.9,432.9 L195.7,429.6 L197.5,427.0 L199.2,425.2 L200.8,424.2 L202.4,424.0 L258.2,430.6 L246.1,519.7 L244.7,529.7 L243.3,539.0 L241.8,547.5 L240.4,555.3 L239.0,562.3 L237.5,568.6 L236.0,574.1 L234.6,578.8 L233.1,582.8 L231.6,586.0 L230.1,588.5 L228.6,590.2 L227.1,591.2 L225.5,591.4 L137.6,581.1 L157.0,497.9 L159.3,488.5 L161.5,479.8 L163.6,471.9 L165.7,464.6 L167.7,458.1 L169.7,452.3 L171.6,447.1 L173.5,442.7 L175.3,439.0 L177.1,436.0 L178.8,433.7 L180.5,432.1 L182.1,431.2 L183.6,431.0 L256.9,439.6 L245.0,518.4 L243.6,527.3 L242.2,535.5 L240.8,543.1 L239.4,549.9 L237.9,556.1 L236.5,561.7 L235.0,566.5 L233.6,570.7 L232.1,574.2 L230.6,577.1 L229.1,579.2 L227.6,580.7 L226.1,581.6 L224.6,581.7 L136.7,571.4 L152.3,504.6 L154.1,497.0 L155.9,490.1 L157.7,483.7 L159.4,477.8 L161.2,472.5 L162.9,467.8 L164.6,463.6 L166.2,460.1 L167.9,457.0 L169.5,454.5 L171.1,452.6 L172.7,451.3 L174.2,450.5 L175.8,450.3 L293.0,454.8 L283.2,508.6 L281.8,516.0 L280.3,522.8 L278.9,529.1 L277.4,534.8 L275.8,540.0 L274.3,544.6 L272.7,548.6 L271.1,552.2 L269.5,555.1 L267.9,557.5 L266.2,559.3 L264.5,560.6 L262.8,561.3 L261.1,561.5 L103.3,551.7 L113.7,525.5 L117.1,517.1 L120.4,509.4 L123.7,502.3 L127.0,495.8 L130.1,490.0 L133.3,484.8 L136.3,480.2 L139.3,476.3 L142.3,473.0 L145.2,470.3 L148.0,468.3 L150.8,467.0 L153.5,466.2 L156.1,466.1 L297.0,478.2 L288.7,523.8 L287.4,530.0 L286.2,535.8 L284.9,541.2 L283.6,546.0 L282.2,550.4 L280.8,554.3 L279.3,557.7 L277.8,560.7 L276.3,563.2 L274.7,565.2 L273.1,566.7 L271.5,567.8 L269.8,568.3 L268.1,568.4 L107.3,556.6 L166.9,480.0 L168.4,478.2 L169.9,476.5 L171.3,475.0 L172.8,473.6 L174.2,472.4 L175.6,471.4 L177.1,470.5 L178.5,469.7 L179.8,469.2 L181.2,468.8 L182.6,468.5 L183.9,468.4 L185.3,468.5 L186.6,468.8 L322.4,501.5 L321.4,510.0 L321.3,510.8 L321.1,511.6 L320.8,512.2 L320.5,512.9 L320.1,513.5 L319.6,514.0 L319.0,514.6 L318.4,515.0 L317.7,515.4 L316.9,515.8 L316.1,516.1 L315.2,516.4 L314.2,516.6 L313.1,516.8 L102.4,548.0" fill="none" stroke="#3a3a3a" stroke-width="1.9" stroke-linejoin="round"/>
<path d="M198.8,506.3 L202.3,480.1 L203.1,474.7 L203.8,469.7 L204.4,465.0 L205.0,460.8 L205.5,457.0 L206.0,453.6 L206.4,450.6 L206.8,448.0 L207.1,445.8 L207.4,444.0 L207.6,442.6 L207.8,441.6 L207.9,441.0 L208.0,440.8 L208.0,440.8 L200.9,493.2 L199.4,504.1 L198.1,514.1 L196.8,523.3 L195.6,531.7 L194.6,539.4 L193.6,546.2 L192.8,552.2 L192.0,557.4 L191.4,561.8 L190.8,565.4 L190.4,568.2 L190.0,570.2 L189.8,571.4 L189.7,571.8 L189.6,571.8 L198.7,504.7 L200.6,490.9 L202.5,478.1 L204.2,466.3 L206.0,455.5 L207.6,445.8 L209.2,437.1 L210.8,429.5 L212.3,422.9 L213.7,417.3 L215.0,412.8 L216.3,409.3 L217.5,406.8 L218.7,405.4 L219.8,405.0 L220.2,405.1 L209.2,486.8 L206.8,503.6 L204.5,519.2 L202.2,533.6 L199.9,546.7 L197.7,558.5 L195.5,569.0 L193.3,578.3 L191.1,586.3 L189.0,593.0 L186.9,598.5 L184.9,602.7 L182.8,605.6 L180.8,607.3 L178.8,607.7 L177.4,607.5 L192.7,524.2 L195.9,507.0 L199.0,491.1 L202.1,476.4 L205.0,463.1 L207.9,451.0 L210.6,440.2 L213.3,430.7 L215.9,422.5 L218.4,415.6 L220.8,410.0 L223.1,405.6 L225.3,402.6 L227.4,400.8 L229.4,400.3 L244.7,401.5 L234.1,488.3 L231.8,506.3 L229.6,522.9 L227.3,538.1 L225.1,552.0 L223.0,564.6 L220.8,575.8 L218.7,585.7 L216.6,594.3 L214.5,601.5 L212.4,607.4 L210.4,611.9 L208.3,615.1 L206.3,617.0 L204.4,617.5 L152.9,613.5 L170.7,530.1 L174.5,512.9 L178.1,497.0 L181.6,482.3 L185.0,469.0 L188.2,456.9 L191.3,446.1 L194.3,436.6 L197.1,428.4 L199.8,421.5 L202.4,415.8 L204.8,411.5 L207.1,408.4 L209.3,406.6 L211.3,406.2 L243.2,408.6 L232.6,490.6 L230.4,507.5 L228.2,523.2 L226.0,537.5 L223.8,550.7 L221.6,562.5 L219.5,573.1 L217.4,582.5 L215.3,590.5 L213.2,597.3 L211.1,602.9 L209.1,607.2 L207.1,610.2 L205.1,611.9 L203.1,612.4 L156.0,608.7 L173.4,530.6 L177.1,514.4 L180.7,499.5 L184.1,485.8 L187.4,473.3 L190.5,462.0 L193.6,451.9 L196.5,443.0 L199.3,435.4 L202.0,428.9 L204.5,423.7 L206.9,419.7 L209.2,416.9 L211.4,415.3 L213.4,414.9 L256.3,420.0 L246.0,492.0 L243.8,506.9 L241.7,520.7 L239.5,533.3 L237.4,544.9 L235.2,555.3 L233.1,564.6 L231.0,572.7 L228.9,579.8 L226.9,585.7 L224.8,590.5 L222.8,594.2 L220.8,596.8 L218.8,598.2 L216.8,598.6 L140.7,589.7 L156.5,521.8 L159.9,507.8 L163.1,494.8 L166.3,482.9 L169.3,472.0 L172.2,462.2 L175.1,453.5 L177.8,445.8 L180.4,439.2 L183.0,433.6 L185.4,429.1 L187.7,425.6 L189.9,423.2 L192.1,421.8 L194.1,421.5 L256.9,428.9 L246.9,495.2 L244.8,508.9 L242.6,521.6 L240.5,533.2 L238.4,543.8 L236.3,553.4 L234.3,561.9 L232.2,569.4 L230.1,575.9 L228.1,581.4 L226.1,585.8 L224.1,589.2 L222.1,591.5 L220.1,592.8 L218.1,593.1 L137.6,583.7 L152.9,524.1 L156.2,511.8 L159.3,500.4 L162.4,489.9 L165.3,480.4 L168.2,471.9 L170.9,464.2 L173.6,457.5 L176.2,451.7 L178.7,446.9 L181.1,443.0 L183.4,440.0 L185.6,438.0 L187.7,436.9 L189.7,436.8 L281.4,451.0 L273.1,493.2 L270.9,503.9 L268.6,513.9 L266.3,523.0 L264.0,531.4 L261.7,538.9 L259.3,545.6 L256.9,551.5 L254.5,556.5 L252.0,560.8 L249.5,564.3 L247.0,566.9 L244.5,568.7 L241.9,569.8 L239.3,570.0 L110.1,559.9 L121.8,523.4 L125.7,511.7 L129.5,500.9 L133.4,491.1 L137.2,482.2 L140.9,474.2 L144.7,467.1 L148.4,461.0 L152.1,455.8 L155.8,451.5 L159.4,448.1 L163.0,445.7 L166.6,444.2 L170.1,443.6 L173.6,444.0 L287.5,470.6 L281.6,500.5 L280.0,508.1 L278.3,515.2 L276.6,521.6 L274.8,527.5 L272.9,532.8 L270.9,537.6 L268.8,541.7 L266.7,545.3 L264.5,548.3 L262.2,550.7 L259.8,552.5 L257.4,553.8 L254.9,554.4 L252.3,554.5 L122.3,544.4" fill="none" stroke="#ababab" stroke-width="1.8" stroke-dasharray="5.3 3" stroke-linejoin="round"/>
</g>
<g stroke="#666" stroke-width="1.3"><line x1="137.60" y1="626.80" x2="137.60" y2="623.00"/><line x1="137.60" y1="384.20" x2="137.60" y2="388.00"/><line x1="198.80" y1="626.80" x2="198.80" y2="623.00"/><line x1="198.80" y1="384.20" x2="198.80" y2="388.00"/><line x1="260.00" y1="626.80" x2="260.00" y2="623.00"/><line x1="260.00" y1="384.20" x2="260.00" y2="388.00"/><line x1="321.20" y1="626.80" x2="321.20" y2="623.00"/><line x1="321.20" y1="384.20" x2="321.20" y2="388.00"/><line x1="92.60" y1="625.40" x2="96.40" y2="625.40"/><line x1="332.60" y1="625.40" x2="328.80" y2="625.40"/><line x1="92.60" y1="565.85" x2="96.40" y2="565.85"/><line x1="332.60" y1="565.85" x2="328.80" y2="565.85"/><line x1="92.60" y1="506.30" x2="96.40" y2="506.30"/><line x1="332.60" y1="506.30" x2="328.80" y2="506.30"/><line x1="92.60" y1="446.75" x2="96.40" y2="446.75"/><line x1="332.60" y1="446.75" x2="328.80" y2="446.75"/><line x1="92.60" y1="387.20" x2="96.40" y2="387.20"/><line x1="332.60" y1="387.20" x2="328.80" y2="387.20"/></g>
<path d="M332.60,384.20 H92.60 V626.80 H332.60" fill="none" stroke="#666" stroke-width="1.6"/>
<line x1="332.60" y1="384.20" x2="332.60" y2="626.80" stroke="#dcdcdc" stroke-width="1"/>
<rect x="208.80" y="578.90" width="118.50" height="41.90" rx="3.5" fill="#fff" fill-opacity="0.82" stroke="#e2e2e2" stroke-width="1"/>
<line x1="213.00" y1="589.50" x2="239.50" y2="589.50" stroke="#404040" stroke-width="2.3"/>
<line x1="213.00" y1="608.10" x2="239.50" y2="608.10" stroke="#b0b0b0" stroke-width="1.7" stroke-dasharray="5.3 3"/>
<text x="249.60" y="594.30" font-size="14.6" fill="#424242" stroke="#424242" stroke-width="0.3">Experiemnt</text>
<text x="249.60" y="612.80" font-size="14.6" fill="#424242" stroke="#424242" stroke-width="0.3">Simulation</text>
<g font-size="16.5" fill="#424242" stroke="#424242" stroke-width="0.25"><text x="138.10" y="644.50" text-anchor="middle" textLength="22.11" lengthAdjust="spacingAndGlyphs">−2</text><text x="199.30" y="644.50" text-anchor="middle" textLength="9.54" lengthAdjust="spacingAndGlyphs">0</text><text x="260.50" y="644.50" text-anchor="middle" textLength="9.54" lengthAdjust="spacingAndGlyphs">2</text><text x="321.70" y="644.50" text-anchor="middle" textLength="9.54" lengthAdjust="spacingAndGlyphs">4</text><text x="88.70" y="632.30" text-anchor="end" textLength="50.73" lengthAdjust="spacingAndGlyphs">−1000</text><text x="88.70" y="572.75" text-anchor="end" textLength="41.19" lengthAdjust="spacingAndGlyphs">−500</text><text x="88.70" y="513.20" text-anchor="end" textLength="9.54" lengthAdjust="spacingAndGlyphs">0</text><text x="88.70" y="453.65" text-anchor="end" textLength="28.62" lengthAdjust="spacingAndGlyphs">500</text><text x="88.70" y="394.10" text-anchor="end" textLength="38.16" lengthAdjust="spacingAndGlyphs">1000</text></g>
<text x="211.50" y="661.30" font-size="17" fill="#424242" stroke="#424242" stroke-width="0.25" text-anchor="middle" textLength="40.5" lengthAdjust="spacingAndGlyphs"><tspan font-style="italic">θ</tspan>[%]</text>
<text transform="translate(30.40,506.00) rotate(-90)" font-size="18.5" fill="#424242" stroke="#424242" stroke-width="0.25" text-anchor="middle" textLength="109.0" lengthAdjust="spacingAndGlyphs"><tspan font-style="italic">M</tspan><tspan font-size="13" dy="3.5" font-style="italic">base</tspan><tspan dy="-3.5">[</tspan><tspan font-style="italic">kN</tspan>. <tspan font-style="italic">m</tspan>]</text>
<text x="207.00" y="722.00" font-family="Liberation Serif" font-size="42.5" fill="#2a2a2a" text-anchor="middle">(c)</text>
<g clip-path="url(#clipd)">
<path d="M493.5,430.0 L502.4,430.1 L511.2,430.2 L519.9,430.5 L528.6,430.9 L537.1,431.5 L545.6,432.1 L554.0,432.9 L562.2,433.7 L570.4,434.7 L578.5,435.9 L583.0,436.5 L574.0,436.5 L565.0,436.7 L556.0,436.9 L547.0,437.3 L538.1,437.7 L529.1,438.2 L520.1,438.8 L511.2,439.5 L502.2,440.3 L493.2,441.2 L476.0,443.0 L485.0,443.1 L494.0,443.3 L503.0,443.6 L511.9,444.1 L520.9,444.7 L529.8,445.5 L538.7,446.3 L547.7,447.4 L556.6,448.5 L565.5,449.8 L583.0,452.5 L574.0,452.6 L565.0,452.7 L556.0,453.0 L547.0,453.3 L538.1,453.8 L529.1,454.3 L520.1,455.0 L511.2,455.7 L502.2,456.6 L493.3,457.5 L476.0,459.5 L485.0,459.6 L494.0,459.8 L503.0,460.1 L511.9,460.6 L520.9,461.3 L529.8,462.0 L538.7,462.9 L547.6,464.0 L556.6,465.2 L565.4,466.5 L600.0,472.0 L591.0,472.1 L582.0,472.3 L573.0,472.6 L564.1,473.0 L555.1,473.6 L546.2,474.3 L537.2,475.2 L528.3,476.2 L519.4,477.3 L510.5,478.5 L456.0,486.5 L465.0,486.5 L474.0,486.7 L483.0,486.9 L492.0,487.2 L500.9,487.6 L509.9,488.1 L518.9,488.7 L527.9,489.4 L536.8,490.1 L545.8,491.0 L599.1,496.3 L590.1,496.4 L581.1,496.6 L572.1,496.9 L563.2,497.4 L554.2,497.9 L545.3,498.7 L536.3,499.5 L527.4,500.5 L518.5,501.6 L509.6,502.9 L463.9,509.6 L472.9,509.7 L481.9,509.9 L490.8,510.2 L499.8,510.7 L508.8,511.4 L517.7,512.2 L526.6,513.1 L535.5,514.1 L544.4,515.4 L553.3,516.7 L631.5,529.2 L622.5,529.3 L613.5,529.5 L604.5,529.8 L595.6,530.3 L586.6,530.9 L577.7,531.6 L568.7,532.5 L559.8,533.5 L550.9,534.6 L542.0,535.9 L428.4,552.9 L437.4,553.0 L446.4,553.3 L455.3,553.7 L464.3,554.3 L473.2,555.2 L482.1,556.1 L491.0,557.3 L499.8,558.7 L508.7,560.2 L517.5,561.9 L655.0,590.0" fill="none" stroke="#ababab" stroke-width="1.8" stroke-dasharray="5.3 3" stroke-linejoin="round"/>
<path d="M493.5,427.9 L502.2,428.0 L510.9,428.1 L519.5,428.4 L528.0,428.8 L536.4,429.3 L544.7,429.9 L552.9,430.6 L561.0,431.4 L569.1,432.3 L577.0,433.4 L581.4,434.0 L572.4,434.0 L563.4,434.2 L554.4,434.4 L545.4,434.8 L536.5,435.2 L527.5,435.7 L518.5,436.4 L509.6,437.1 L500.6,437.9 L491.7,438.8 L475.1,440.6 L484.1,440.7 L493.1,440.9 L502.0,441.3 L511.0,441.8 L519.9,442.4 L528.9,443.3 L537.8,444.2 L546.7,445.3 L555.6,446.6 L564.5,448.0 L581.4,450.8 L572.4,450.8 L563.4,451.0 L554.4,451.2 L545.4,451.5 L536.5,451.9 L527.5,452.4 L518.5,453.0 L509.5,453.7 L500.6,454.5 L491.6,455.3 L475.1,457.0 L484.1,457.1 L493.1,457.3 L502.1,457.6 L511.0,458.1 L520.0,458.7 L528.9,459.5 L537.8,460.4 L546.8,461.4 L555.7,462.6 L564.6,463.9 L601.8,469.6 L592.8,469.7 L583.8,469.9 L574.8,470.2 L565.9,470.6 L556.9,471.2 L548.0,471.9 L539.0,472.7 L530.1,473.6 L521.2,474.7 L512.2,475.9 L454.3,484.1 L463.3,484.2 L472.3,484.3 L481.3,484.7 L490.2,485.1 L499.2,485.7 L508.1,486.3 L517.1,487.1 L526.0,488.1 L535.0,489.1 L543.9,490.3 L601.8,498.4 L592.8,498.5 L583.8,498.7 L574.8,499.0 L565.9,499.5 L556.9,500.2 L548.0,500.9 L539.1,501.8 L530.2,502.9 L521.2,504.1 L512.4,505.4 L453.2,514.8 L462.2,514.9 L471.2,515.1 L480.1,515.5 L489.1,516.0 L498.1,516.6 L507.0,517.4 L515.9,518.4 L524.8,519.5 L533.7,520.7 L542.6,522.1 L644.1,538.8 L635.1,538.9 L626.1,539.1 L617.2,539.5 L608.2,540.0 L599.2,540.6 L590.3,541.4 L581.4,542.4 L572.5,543.4 L563.6,544.7 L554.7,546.1 L412.4,569.3 L421.4,569.4 L430.4,569.6 L439.3,570.0 L448.3,570.5 L457.2,571.2 L466.2,572.0 L475.1,573.0 L484.0,574.2 L492.9,575.5 L501.8,576.9 L650.6,602.4 L641.6,602.5 L632.6,602.7 L623.6,603.0 L614.7,603.5 L605.7,604.1 L596.8,604.9 L587.9,605.8 L578.9,606.8 L570.0,608.0 L561.1,609.3 L532.5,613.8" fill="none" stroke="#3a3a3a" stroke-width="1.9" stroke-linejoin="round"/>
<path d="M504,398.5 L554,398.5 L560,401.5 L498,401.5 Z" fill="#c6c6c6"/>
<path d="M503,401.5 L556,401.5 L563,407 L563,428 L493.5,428 L493.5,407 Z" fill="#c6c6c6"/>
<line x1="503" y1="402.8" x2="554" y2="402.8" stroke="#454545" stroke-width="1.7"/>
<line x1="493.5" y1="408.4" x2="561.6" y2="408.4" stroke="#3e3e3e" stroke-width="1.7"/>
<line x1="493.5" y1="415.5" x2="562.8" y2="415.5" stroke="#444" stroke-width="1.7"/>
<line x1="493.5" y1="420.0" x2="562" y2="420.0" stroke="#4a4a4a" stroke-width="1.7"/>
<line x1="493.5" y1="425.5" x2="562" y2="425.5" stroke="#444" stroke-width="1.7"/>
<line x1="519.5" y1="403.6" x2="517.0" y2="407.0" stroke="#333" stroke-width="1.6"/>
<line x1="528.1" y1="403.6" x2="525.6" y2="407.0" stroke="#333" stroke-width="1.6"/>
<line x1="536.7" y1="403.6" x2="534.2" y2="407.0" stroke="#333" stroke-width="1.6"/>
<line x1="545.3" y1="403.6" x2="542.8" y2="407.0" stroke="#333" stroke-width="1.6"/>
<line x1="523.0" y1="409.2" x2="520.5" y2="412.6" stroke="#333" stroke-width="1.6"/>
<line x1="531.6" y1="409.2" x2="529.1" y2="412.6" stroke="#333" stroke-width="1.6"/>
<line x1="540.2" y1="409.2" x2="537.7" y2="412.6" stroke="#333" stroke-width="1.6"/>
<line x1="548.8" y1="409.2" x2="546.3" y2="412.6" stroke="#333" stroke-width="1.6"/>
<line x1="557.4" y1="409.2" x2="554.9" y2="412.6" stroke="#333" stroke-width="1.6"/>
<line x1="519.5" y1="416.3" x2="517.0" y2="419.7" stroke="#333" stroke-width="1.6"/>
<line x1="528.1" y1="416.3" x2="525.6" y2="419.7" stroke="#333" stroke-width="1.6"/>
<line x1="536.7" y1="416.3" x2="534.2" y2="419.7" stroke="#333" stroke-width="1.6"/>
<line x1="545.3" y1="416.3" x2="542.8" y2="419.7" stroke="#333" stroke-width="1.6"/>
<line x1="553.9" y1="416.3" x2="551.4" y2="419.7" stroke="#333" stroke-width="1.6"/>
<line x1="523.0" y1="420.8" x2="520.5" y2="424.2" stroke="#333" stroke-width="1.6"/>
<line x1="531.6" y1="420.8" x2="529.1" y2="424.2" stroke="#333" stroke-width="1.6"/>
<line x1="540.2" y1="420.8" x2="537.7" y2="424.2" stroke="#333" stroke-width="1.6"/>
<line x1="548.8" y1="420.8" x2="546.3" y2="424.2" stroke="#333" stroke-width="1.6"/>
<line x1="557.4" y1="420.8" x2="554.9" y2="424.2" stroke="#333" stroke-width="1.6"/>
<path d="M530,397.5 L530.2,393.5 L532.8,391.8" fill="none" stroke="#444" stroke-width="1.3"/>
<path d="M530.5,608 L530.5,614 L534,614" fill="none" stroke="#333" stroke-width="1.3"/>
</g>
<g stroke="#666" stroke-width="1.3"><line x1="455.30" y1="626.80" x2="455.30" y2="623.00"/><line x1="455.30" y1="381.70" x2="455.30" y2="385.50"/><line x1="529.50" y1="626.80" x2="529.50" y2="623.00"/><line x1="529.50" y1="381.70" x2="529.50" y2="385.50"/><line x1="603.70" y1="626.80" x2="603.70" y2="623.00"/><line x1="603.70" y1="381.70" x2="603.70" y2="385.50"/><line x1="401.80" y1="393.60" x2="405.60" y2="393.60"/><line x1="661.60" y1="393.60" x2="657.80" y2="393.60"/><line x1="401.80" y1="442.75" x2="405.60" y2="442.75"/><line x1="661.60" y1="442.75" x2="657.80" y2="442.75"/><line x1="401.80" y1="491.90" x2="405.60" y2="491.90"/><line x1="661.60" y1="491.90" x2="657.80" y2="491.90"/><line x1="401.80" y1="541.05" x2="405.60" y2="541.05"/><line x1="661.60" y1="541.05" x2="657.80" y2="541.05"/><line x1="401.80" y1="590.20" x2="405.60" y2="590.20"/><line x1="661.60" y1="590.20" x2="657.80" y2="590.20"/></g>
<rect x="401.80" y="381.70" width="259.80" height="245.10" fill="none" stroke="#666" stroke-width="1.6"/>
<rect x="537.00" y="578.90" width="117.40" height="41.90" rx="3.5" fill="#fff" fill-opacity="0.82" stroke="#e2e2e2" stroke-width="1"/>
<line x1="541.20" y1="589.50" x2="568.30" y2="589.50" stroke="#404040" stroke-width="2.3"/>
<line x1="541.20" y1="608.50" x2="568.30" y2="608.50" stroke="#b0b0b0" stroke-width="1.7" stroke-dasharray="5.3 3"/>
<text x="577.60" y="594.50" font-size="14.6" fill="#424242" stroke="#424242" stroke-width="0.3">Experiemnt</text>
<text x="577.60" y="613.00" font-size="14.6" fill="#424242" stroke="#424242" stroke-width="0.3">Simulation</text>
<g font-size="16.5" fill="#424242" stroke="#424242" stroke-width="0.25"><text x="455.80" y="644.30" text-anchor="middle" textLength="22.11" lengthAdjust="spacingAndGlyphs">−2</text><text x="530.00" y="644.30" text-anchor="middle" textLength="9.54" lengthAdjust="spacingAndGlyphs">0</text><text x="604.20" y="644.30" text-anchor="middle" textLength="9.54" lengthAdjust="spacingAndGlyphs">2</text><text x="397.60" y="400.50" text-anchor="end" textLength="9.06" lengthAdjust="spacingAndGlyphs">0</text><text x="397.60" y="449.65" text-anchor="end" textLength="30.07" lengthAdjust="spacingAndGlyphs">−20</text><text x="397.60" y="498.80" text-anchor="end" textLength="30.07" lengthAdjust="spacingAndGlyphs">−40</text><text x="397.60" y="547.95" text-anchor="end" textLength="30.07" lengthAdjust="spacingAndGlyphs">−60</text><text x="397.60" y="597.10" text-anchor="end" textLength="30.07" lengthAdjust="spacingAndGlyphs">−80</text></g>
<text x="530.50" y="661.30" font-size="17" fill="#424242" stroke="#424242" stroke-width="0.25" text-anchor="middle" textLength="40.5" lengthAdjust="spacingAndGlyphs"><tspan font-style="italic">θ</tspan>[%]</text>
<text transform="translate(358.30,505.00) rotate(-90)" font-size="18.5" fill="#424242" stroke="#424242" stroke-width="0.25" text-anchor="middle" textLength="60.0" lengthAdjust="spacingAndGlyphs">Δ[<tspan font-style="italic">mm</tspan>]</text>
<text x="535.50" y="721.50" font-family="Liberation Serif" font-size="42.5" fill="#2a2a2a" text-anchor="middle">(d)</text>
</svg></body></html>
